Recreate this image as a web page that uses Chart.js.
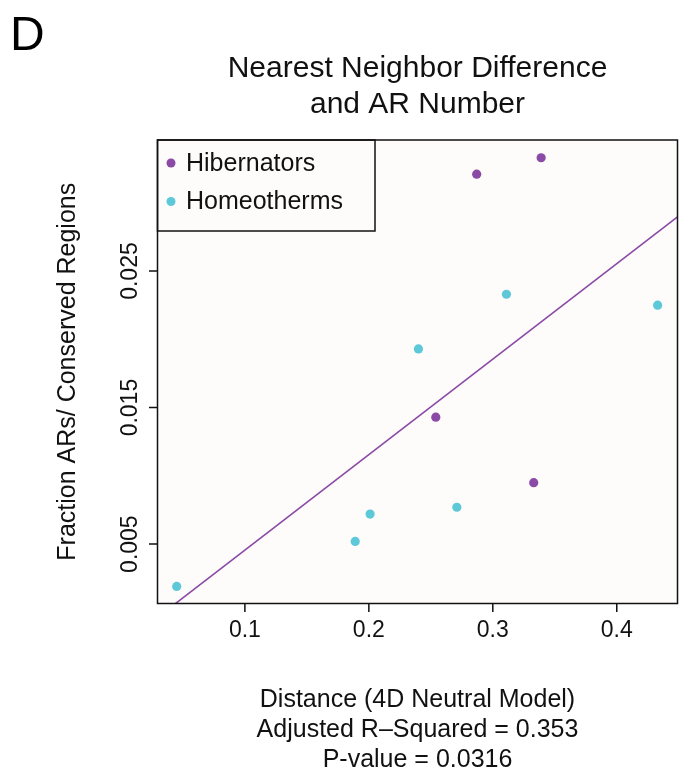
<!DOCTYPE html>
<html>
<head>
<meta charset="utf-8">
<script src="https://cdn.jsdelivr.net/npm/chart.js@4/dist/chart.umd.min.js"></script>
<style>
  html, body { margin: 0; padding: 0; background: #ffffff; }
  canvas { display: block; }
</style>
</head>
<body>
<canvas id="nnChart" width="684" height="772"></canvas>
<script>
// data
const hibernatorsX = [0.287, 0.339, 0.254, 0.333];
const hibernatorsY = [0.0321, 0.0333, 0.0143, 0.0095];
const homeothermsX = [0.311, 0.433, 0.240, 0.201, 0.189, 0.271, 0.045];
const homeothermsY = [0.0233, 0.0225, 0.0193, 0.0072, 0.0052, 0.0077, 0.0019];

const xTicks = [0.1, 0.2, 0.3, 0.4];
const yTicks = [0.005, 0.015, 0.025];
const xLimits = [0.0295, 0.449];
const yLimits = [0.00065, 0.0346];

const purple = "#8a4aa6";
const cyan = "#5cc8d8";
const FONT = '"Liberation Sans", Arial, Helvetica, sans-serif';

// least squares fit over all points
const allX = hibernatorsX.concat(homeothermsX);
const allY = hibernatorsY.concat(homeothermsY);
const n = allX.length;
const mx = allX.reduce((a, b) => a + b, 0) / n;
const my = allY.reduce((a, b) => a + b, 0) / n;
let sxy = 0, sxx = 0;
for (let i = 0; i < n; i++) {
    sxy += (allX[i] - mx) * (allY[i] - my);
    sxx += (allX[i] - mx) * (allX[i] - mx);
}
const slope = sxy / sxx;
const intercept = my - slope * mx;
const fitLine = xLimits.map(x => ({ x: x, y: intercept + slope * x }));

const toPoints = (xs, ys) => xs.map((x, i) => ({ x: x, y: ys[i] }));

const frame = {
    id: "frame",
    beforeDraw(chart) {
        const { ctx, chartArea: a } = chart;
        ctx.save();
        ctx.fillStyle = "#ffffff";
        ctx.fillRect(0, 0, chart.width, chart.height);
        ctx.fillStyle = "#fdfcfa";
        ctx.fillRect(a.left, a.top, a.right - a.left, a.bottom - a.top);
        ctx.restore();
    },
    afterDraw(chart) {
        const { ctx, chartArea: a } = chart;
        const xs = chart.scales.x, ys = chart.scales.y;
        ctx.save();
        ctx.strokeStyle = "#111";
        ctx.fillStyle = "#111";
        ctx.lineWidth = 1.5;

        // ticks
        ctx.beginPath();
        xTicks.forEach(v => {
            const px = xs.getPixelForValue(v);
            ctx.moveTo(px, a.bottom);
            ctx.lineTo(px, a.bottom + 8.5);
        });
        yTicks.forEach(v => {
            const py = ys.getPixelForValue(v);
            ctx.moveTo(a.left, py);
            ctx.lineTo(a.left - 8.5, py);
        });
        ctx.stroke();

        ctx.font = "23px " + FONT;
        ctx.textAlign = "center";
        ctx.textBaseline = "alphabetic";
        xTicks.forEach(v => {
            ctx.fillText(v.toFixed(1), xs.getPixelForValue(v), a.bottom + 33);
        });
        yTicks.forEach(v => {
            ctx.save();
            ctx.translate(a.left - 21, ys.getPixelForValue(v));
            ctx.rotate(-Math.PI / 2);
            ctx.fillText(v.toFixed(3), 0, 0);
            ctx.restore();
        });

        // legend
        const lgR = 375, lgB = 231;
        ctx.fillStyle = "#fdfcfa";
        ctx.fillRect(a.left, a.top, lgR - a.left, lgB - a.top);
        ctx.strokeRect(a.left, a.top, lgR - a.left, lgB - a.top);
        const entries = chart.data.datasets.filter(d => d.inLegend);
        entries.forEach((d, i) => {
            const cy = 163 + i * 38.5;
            ctx.fillStyle = d.backgroundColor;
            ctx.beginPath();
            ctx.arc(a.left + 13.5, cy, 4.5, 0, Math.PI * 2);
            ctx.fill();
            ctx.fillStyle = "#111";
            ctx.font = "25px " + FONT;
            ctx.textAlign = "left";
            ctx.textBaseline = "middle";
            ctx.fillText(d.label, a.left + 28.5, cy + 1);
        });

        // box
        ctx.strokeStyle = "#111";
        ctx.strokeRect(a.left, a.top, a.right - a.left, a.bottom - a.top);

        // texts
        const cx = (a.left + a.right) / 2;
        ctx.fillStyle = "#000";
        ctx.textBaseline = "alphabetic";
        ctx.textAlign = "left";
        ctx.font = "48px " + FONT;
        ctx.fillText("D", 10, 50);

        ctx.fillStyle = "#111";
        ctx.textAlign = "center";
        ctx.font = "30px " + FONT;
        ctx.fillText("Nearest Neighbor Difference", cx, 77);
        ctx.fillText("and AR Number", cx, 113);

        ctx.font = "25px " + FONT;
        ctx.fillText("Distance (4D Neutral Model)", cx, 707);
        ctx.fillText("Adjusted R\u2013Squared = 0.353", cx, 737);
        ctx.fillText("P-value = 0.0316", cx, 767);

        ctx.save();
        ctx.translate(75, (a.top + a.bottom) / 2);
        ctx.rotate(-Math.PI / 2);
        ctx.fillText("Fraction ARs/ Conserved Regions", 0, 0);
        ctx.restore();

        ctx.restore();
    }
};

new Chart(document.getElementById("nnChart"), {
    type: "scatter",
    data: {
        datasets: [
            {
                label: "Hibernators",
                inLegend: true,
                data: toPoints(hibernatorsX, hibernatorsY),
                backgroundColor: purple,
                borderWidth: 0,
                pointRadius: 4.6
            },
            {
                label: "Homeotherms",
                inLegend: true,
                data: toPoints(homeothermsX, homeothermsY),
                backgroundColor: cyan,
                borderWidth: 0,
                pointRadius: 4.6
            },
            {
                type: "line",
                label: "fit",
                data: fitLine,
                borderColor: purple,
                backgroundColor: purple,
                borderWidth: 1.6,
                pointRadius: 0,
                fill: false
            }
        ]
    },
    options: {
        responsive: false,
        devicePixelRatio: 1,
        animation: false,
        layout: { padding: { left: 157.5, right: 6.5, top: 140, bottom: 168.5 } },
        plugins: {
            legend: { display: false },
            title: { display: false },
            tooltip: { enabled: false }
        },
        scales: {
            x: { type: "linear", display: false, min: xLimits[0], max: xLimits[1] },
            y: { type: "linear", display: false, min: yLimits[0], max: yLimits[1] }
        }
    },
    plugins: [frame]
});
</script>
</body>
</html>
